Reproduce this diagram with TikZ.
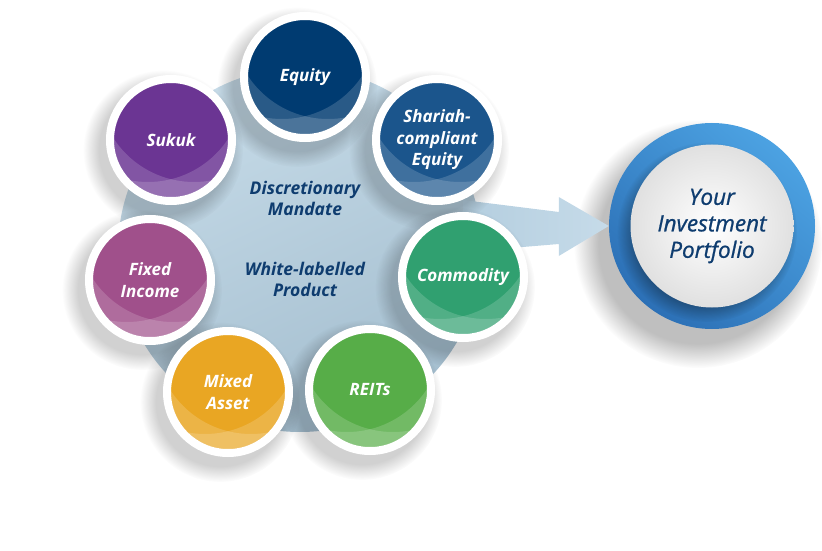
\documentclass[tikz,border=0pt]{standalone}
\usepackage{fontspec}
\setmainfont{Open Sans}
\newfontfamily\semifont[FakeBold=1]{Open Sans}
\usetikzlibrary{calc, fadings}

\definecolor{cNavy}{HTML}{0E3C6F}
\definecolor{cEquity}{HTML}{003B71}
\definecolor{cShariah}{HTML}{1B558C}
\definecolor{cCommodity}{HTML}{30A070}
\definecolor{cReits}{HTML}{57AD48}
\definecolor{cMixed}{HTML}{E9A623}
\definecolor{cFixed}{HTML}{A0508B}
\definecolor{cSukuk}{HTML}{6B3593}
\definecolor{hubTop}{HTML}{C6DBE8}
\definecolor{hubBottom}{HTML}{A4BECF}
\definecolor{arrowA}{HTML}{B4CEDF}
\definecolor{arrowB}{HTML}{C6DBE9}
\definecolor{ringLight}{HTML}{4CA2E2}
\definecolor{ringDark}{HTML}{2C70B6}

\tikzstyle{mCircle} = [circle, draw=white, line width=8pt, minimum size=122pt, inner sep=0pt, text=white, align=center, font=\bfseries\itshape\fontsize{17}{21.5}\selectfont]
\tikzstyle{midText} = [text=cNavy, align=center, font=\bfseries\itshape\fontsize{17.5}{21}\selectfont]
\tikzstyle{softShadow} = [black, path fading=circle with fuzzy edge 20 percent]

\begin{document}
\begin{tikzpicture}[x=1pt, y=1pt]
\useasboundingbox (0,0) rectangle (822,550);

\coordinate (c1) at (305,473);
\coordinate (c2) at (437,410);
\coordinate (c3) at (463,273);
\coordinate (c4) at (370,160);
\coordinate (c5) at (228,158);
\coordinate (c6) at (150,270);
\coordinate (c7) at (171,410);
\coordinate (pc) at (712,324);

\fill[softShadow, opacity=.25] ($(pc)+(-14,-18)$) circle (124pt);
\node[circle, minimum size=206pt, inner sep=0pt, top color=ringLight, bottom color=ringDark, shading angle=-40] (port) at (pc) {};
\fill[softShadow, opacity=.35] ($(port.center)+(-5,-6)$) circle (90pt);
\node[circle, minimum size=163pt, inner sep=0pt, inner color=white, outer color=black!12, text=cNavy, align=center, font=\semifont\itshape\fontsize{22.5}{26.5}\selectfont] (pf) at (port.center) {Your\\Investment\\Portfolio};

\node[circle, minimum size=364pt, inner sep=0pt, top color=hubTop, bottom color=hubBottom, shading angle=25] (hub) at (300,300) {};

\shade[left color=arrowA, right color=arrowB] ($(hub.center)+(163,50)$) -- ($(port.west)+(-50,14)$) -- ($(port.west)+(-50,29)$) -- (port.west) -- ($(port.west)+(-50,-30)$) -- ($(port.west)+(-50,-18)$) -- ($(hub.center)+(163,-2)$) -- cycle;

\foreach \i in {1,...,7}
  \fill[softShadow, opacity=.18] ($(c\i)+(-8,-10)$) circle (80pt);

\node[mCircle, fill=cEquity] (m1) at (c1) {Equity};
\node[mCircle, fill=cShariah] (m2) at (c2) {Shariah-\\compliant\\Equity};
\node[mCircle, fill=cCommodity] (m3) at (c3) {Commodity};
\node[mCircle, fill=cReits] (m4) at (c4) {REITs};
\node[mCircle, fill=cMixed] (m5) at (c5) {Mixed\\Asset};
\node[mCircle, fill=cFixed] (m6) at (c6) {Fixed\\Income};
\node[mCircle, fill=cSukuk] (m7) at (c7) {Sukuk};

\foreach \i in {1,...,7}{
  \begin{scope}
    \clip (m\i.center) circle (57pt);
    \fill[white, opacity=.16, even odd rule] (m\i.center) circle (57pt) ($(m\i.center)+(23,54)$) circle (96pt);
    \fill[white, opacity=.16, even odd rule] (m\i.center) circle (57pt) ($(m\i.center)+(-23,54)$) circle (96pt);
  \end{scope}
}

\node[midText] (t1) at (305,352) {Discretionary\\Mandate};
\node[midText] (t2) at (305,271) {White-labelled\\Product};
\end{tikzpicture}
\end{document}
